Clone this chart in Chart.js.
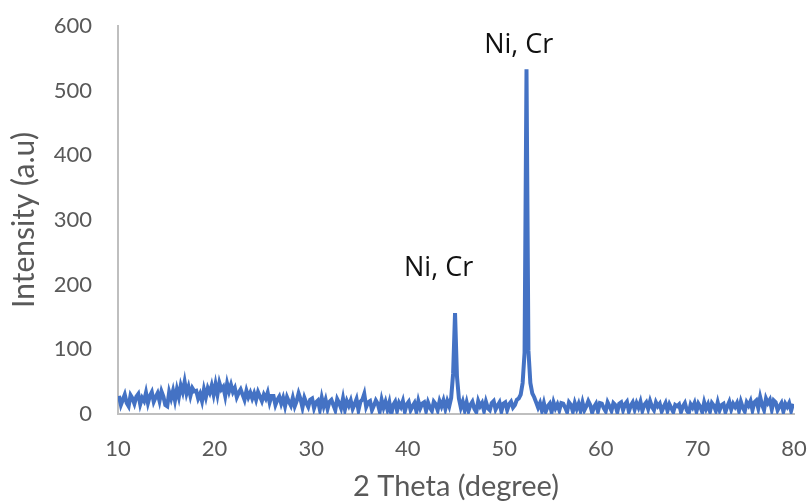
<!DOCTYPE html>
<html lang="en">
<head>
    <meta charset="UTF-8">
    <title>XRD pattern</title>
    <script src="https://cdn.jsdelivr.net/npm/chart.js"></script>
    <style>
        html, body { margin: 0; padding: 0; background: #fff; }
        .chart-box { width: 811px; height: 504px; }
    </style>
</head>
<body>
    <div class="chart-box">
        <canvas id="xrdChart" width="811" height="504"></canvas>
    </div>

    <script>
        // sampling grid of the scan (2 theta, degree)
        const thetaStart = 10.1;
        const thetaStep = 0.2;

        // intensity, one row = 2 degrees
        const intensity = [
            28, 14, 22, 30, 17, 12, 29, 24, 16, 27,
            31, 15, 25, 20, 33, 17, 28, 34, 19, 26,
            32, 20, 35, 27, 14, 12, 34, 24, 36, 21,
            38, 26, 44, 34, 50, 32, 42, 28, 40, 35,
            36, 24, 31, 20, 38, 26, 40, 33, 44, 30,
            46, 30, 48, 38, 42, 28, 47, 35, 45, 34,
            40, 26, 33, 38, 30, 22, 36, 26, 33, 24,
            32, 22, 34, 27, 20, 30, 24, 33, 18, 28,
            28, 14, 22, 27, 16, 25, 12, 26, 19, 13,
            25, 12, 20, 32, 23, 10, 25, 17, 11, 22,
            24, 9, 18, 21, 7, 25, 12, 22, 8, 19,
            22, 14, 6, 23, 17, 9, 24, 7, 20, 13,
            21, 8, 15, 23, 6, 19, 22, 31, 11, 18,
            20, 6, 13, 21, 16, 4, 22, 10, 19, 7,
            18, 0, 14, 19, 5, 17, 11, 20, 4, 15,
            19, 6, 12, 17, 4, 20, 9, 16, 18, 5,
            18, 10, 5, 19, 15, 6, 20, 12, 21, 8,
            20, 12, 25, 62, 156, 58, 24, 10, 19, 6,
            18, 5, 14, 19, 8, 3, 20, 12, 17, 5,
            19, 9, 6, 17, 20, 7, 13, 18, 4, 16,
            18, 6, 15, 19, 10, 14, 22, 24, 30, 48,
            95, 533, 98, 48, 32, 26, 18, 10, 17, 5,
            17, 4, 12, 16, 3, 18, 9, 15, 6, 17,
            16, 10, 3, 18, 14, 4, 17, 8, 16, 5,
            18, 6, 12, 20, 14, 2, 11, 16, 4, 17,
            16, 9, 4, 18, 12, 5, 17, 14, 3, 16,
            18, 6, 15, 19, 4, 13, 18, 7, 17, 10,
            19, 5, 14, 18, 8, 20, 11, 6, 18, 12,
            16, 4, 11, 17, 5, 15, 9, 3, 14, 12,
            15, 3, 12, 17, 6, 1, 15, 10, 17, 4,
            16, 11, 3, 18, 8, 15, 4, 17, 13, 5,
            18, 6, 14, 16, 3, 12, 19, 7, 16, 11,
            17, 5, 19, 10, 4, 18, 13, 20, 6, 18,
            21, 9, 26, 14, 6, 24, 17, 22, 7, 21,
            18, 6, 12, 17, 4, 16, 11, 17, 5, 16
        ];

        // axis ranges / ticks
        const xTicks = [10, 20, 30, 40, 50, 60, 70, 80];
        const yTicks = [0, 100, 200, 300, 400, 500, 600];

        // peak labels
        const peakLabels = ['Ni, Cr', 'Ni, Cr'];
        const peakLabelX = [43.2, 51.5];
        const peakLabelY = [226, 570];

        const points = intensity.map((v, i) => ({
            x: +(thetaStart + i * thetaStep).toFixed(1),
            y: v
        }));

        const textGrey = '#595959';
        const axisGrey = '#bfbfbf';

        // writes the "Ni, Cr" notes above the peaks
        const peakNotes = {
            id: 'peakNotes',
            afterDatasetsDraw(chart) {
                const { ctx, scales } = chart;
                ctx.save();
                ctx.font = '27px "Open Sans"';
                ctx.fillStyle = '#111';
                ctx.textAlign = 'center';
                ctx.textBaseline = 'middle';
                peakLabels.forEach((t, i) => {
                    ctx.fillText(t, scales.x.getPixelForValue(peakLabelX[i]), scales.y.getPixelForValue(peakLabelY[i]));
                });
                ctx.restore();
            }
        };

        new Chart(document.getElementById('xrdChart').getContext('2d'), {
            type: 'line',
            data: {
                datasets: [{
                    data: points,
                    borderColor: '#4472C4',
                    borderWidth: 4,
                    pointRadius: 0,
                    tension: 0,
                    fill: false
                }]
            },
            options: {
                responsive: false,
                animation: false,
                events: [],
                layout: { padding: { top: 26, right: 17, bottom: 0, left: 0 } },
                plugins: {
                    legend: { display: false },
                    tooltip: { enabled: false }
                },
                scales: {
                    x: {
                        type: 'linear',
                        min: 10,
                        max: 80,
                        afterBuildTicks: s => { s.ticks = xTicks.map(v => ({ value: v })); },
                        afterFit: s => {
                            s.height = 90;
                            s.paddingLeft = 0;
                            s.paddingRight = 0;
                        },
                        grid: { display: false, drawTicks: false },
                        border: { color: axisGrey, width: 2 },
                        ticks: { padding: 22, color: textGrey, font: { family: 'Lato', size: 22 } },
                        title: {
                            display: true,
                            text: '2 Theta (degree)',
                            color: textGrey,
                            font: { family: 'Lato', size: 29 },
                            padding: { top: 0, bottom: 0 }
                        }
                    },
                    y: {
                        min: 0,
                        max: 600,
                        afterBuildTicks: s => { s.ticks = yTicks.map(v => ({ value: v })); },
                        afterFit: s => {
                            s.width = 118;
                            s.paddingTop = 0;
                            s.paddingBottom = 0;
                        },
                        grid: { display: false, drawTicks: false },
                        border: { color: axisGrey, width: 2 },
                        ticks: { padding: 26, color: textGrey, font: { family: 'Lato', size: 22 } },
                        title: {
                            display: true,
                            text: 'Intensity (a.u)',
                            color: textGrey,
                            font: { family: 'Lato', size: 30 },
                            padding: { top: 6, bottom: 0 }
                        }
                    }
                }
            },
            plugins: [peakNotes]
        });
    </script>
</body>
</html>
